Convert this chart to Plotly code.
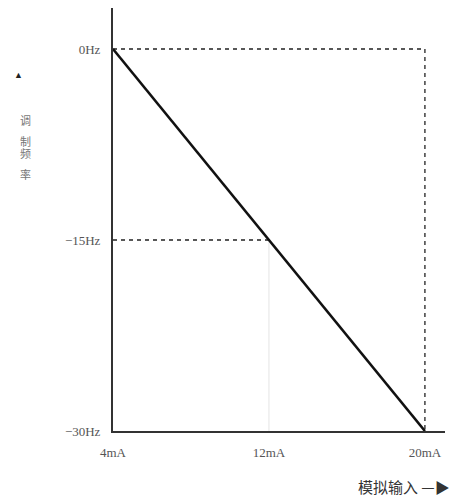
import plotly.graph_objects as go

# data
current_mA = [4, 20]
freq_Hz = [0, -30]
x_ticks = [4, 12, 20]
x_tick_labels = ["4mA", "12mA", "20mA"]
y_ticks = [0, -15, -30]
y_tick_labels = ["0Hz", "\u221215Hz", "\u221230Hz"]
mid_x = 12
mid_y = -15
y_title_chars = ["调", "制", "频", "率"]
x_title = "模拟输入"

fig = go.Figure()

# dashed guide: top and right of box
fig.add_trace(go.Scatter(x=[current_mA[0], current_mA[1], current_mA[1]],
                         y=[freq_Hz[0], freq_Hz[0], freq_Hz[1]],
                         mode="lines", line=dict(color="#222", width=1.3, dash="4px,4px"),
                         hoverinfo="skip"))
# dashed guide at -15Hz
fig.add_trace(go.Scatter(x=[current_mA[0], mid_x], y=[mid_y, mid_y],
                         mode="lines", line=dict(color="#222", width=1.3, dash="4px,4px"),
                         hoverinfo="skip"))
# faint vertical at 12mA
fig.add_trace(go.Scatter(x=[mid_x, mid_x], y=[mid_y, freq_Hz[1]],
                         mode="lines", line=dict(color="#e4e4e4", width=1),
                         hoverinfo="skip"))
# main line
fig.add_trace(go.Scatter(x=current_mA, y=freq_Hz, mode="lines",
                         line=dict(color="#111", width=2.6), hoverinfo="skip"))

font = dict(family="Liberation Serif, DejaVu Serif, serif", size=13, color="#555")

annotations = [
    dict(text="\u25b2", x=12, y=68, showarrow=False, font=dict(size=9, color="#222")),
]
for i, ch in enumerate(y_title_chars):
    annotations.append(dict(text=ch, x=19, y=111 + i * 21, showarrow=False, borderpad=0,
                            font=dict(family="Noto Sans CJK SC", size=11, color="#777")))
annotations.append(dict(text=x_title + " \u2014\u25b6", x=452, y=486, xanchor="right",
                        yanchor="middle", showarrow=False,
                        font=dict(family="Noto Sans CJK SC", size=15, color="#333")))

# convert pixel positions to paper coords
L, R, T, B, W, H = 113, 10, 8, 68, 455, 499
pw, ph = W - L - R, H - T - B
for a in annotations:
    a["xref"] = "paper"
    a["yref"] = "paper"
    a["x"] = (a["x"] - L) / pw
    a["y"] = (H - B - a["y"]) / ph

fig.update_layout(
    width=W, height=H,
    margin=dict(l=L, r=R, t=T, b=B),
    paper_bgcolor="white", plot_bgcolor="white",
    showlegend=False,
    font=font,
    xaxis=dict(range=[4, 21.03], tickvals=x_ticks, ticktext=x_tick_labels,
               showgrid=False, zeroline=False, showline=True, linecolor="#333",
               linewidth=2, ticks="", ticklabelstandoff=8, fixedrange=True),
    yaxis=dict(range=[-30, 3.22], tickvals=y_ticks, ticktext=y_tick_labels,
               showgrid=False, zeroline=False, showline=True, linecolor="#333",
               linewidth=2, ticks="", ticklabelstandoff=8, fixedrange=True),
    annotations=annotations,
)

fig.write_html("out.html", config={"displayModeBar": False},
               post_script="document.body.style.margin='0';document.body.style.overflow='hidden';")
